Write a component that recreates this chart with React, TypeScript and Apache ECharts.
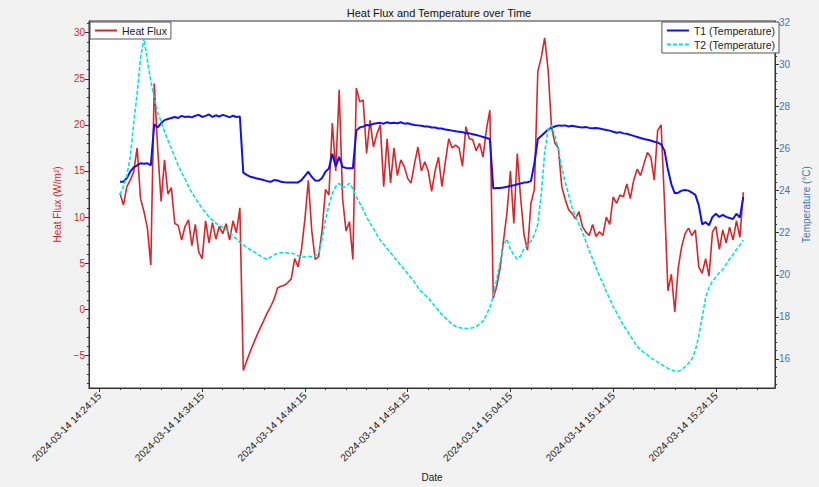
import React, { useEffect, useRef } from "react";
import * as echarts from "echarts";

// Time axis: seconds relative to 2024-03-14 14:24:15
const startOffsetSec = 120; // first sample at 14:26:15
const stepSec = 20;

const xTickValues = [0, 600, 1200, 1800, 2400, 3000, 3600];
const xTickLabels = [
  "2024-03-14 14:24:15",
  "2024-03-14 14:34:15",
  "2024-03-14 14:44:15",
  "2024-03-14 14:54:15",
  "2024-03-14 15:04:15",
  "2024-03-14 15:14:15",
  "2024-03-14 15:24:15",
];
const leftTicks = [-5, 0, 5, 10, 15, 20, 25, 30];
const rightTicks = [16, 18, 20, 22, 24, 26, 28, 30, 32];

const heatFlux = [
  12.6, 11.3, 13.3, 14.0, 14.9, 17.5, 12.0, 10.6, 8.8, 4.8,
  24.5, 17.5, 11.7, 16.2, 12.5, 13.2, 9.3, 9.1, 7.5, 9.0,
  9.7, 6.9, 9.2, 6.2, 5.5, 9.6, 7.2, 9.4, 7.6, 9.0,
  8.2, 9.3, 7.5, 9.6, 8.3, 11.0, -6.65, -5.6, -4.6, -3.7,
  -2.8, -2.0, -1.2, -0.4, 0.3, 1.1, 2.3, 2.5, 2.6, 2.9,
  3.3, 5.5, 4.6, 6.5, 9.8, 14.0, 8.5, 5.4, 5.7, 8.5,
  13.0, 12.4, 20.2, 15.0, 23.8, 12.0, 8.5, 9.5, 5.4, 24.0,
  22.5, 22.7, 16.9, 20.5, 17.6, 19.0, 20.0, 13.3, 18.5, 13.7,
  17.5, 14.5, 16.2, 15.5, 14.2, 13.7, 15.8, 17.6, 15.0, 16.0,
  15.0, 12.8, 15.0, 16.5, 13.3, 16.0, 18.5, 17.5, 17.8, 17.5,
  15.5, 19.8, 18.5, 18.4, 17.2, 18.0, 16.5, 19.5, 21.6, 1.2,
  2.5, 4.5, 7.5, 10.5, 15.0, 9.3, 16.9, 12.0, 8.0, 6.4,
  11.5, 13.0, 25.8, 27.3, 29.45, 26.0, 19.8, 18.0, 17.5, 13.3,
  11.9, 10.8, 10.4, 9.8, 10.6, 9.0, 8.4, 8.0, 9.2, 7.9,
  8.4, 8.0, 10.0, 9.2, 12.2, 11.5, 12.4, 12.2, 13.6, 12.0,
  14.0, 15.2, 14.5, 15.8, 17.0, 16.5, 14.0, 19.4, 20.0, 11.5,
  2.0, 3.8, -0.3, 4.5, 6.8, 8.2, 8.8, 8.0, 8.6, 4.6,
  3.9, 5.5, 3.6, 8.4, 9.0, 6.5, 8.6, 7.2, 8.9, 7.5,
  9.6, 7.8, 12.7,
];

const t1 = [
  24.42, 24.42, 24.6, 24.9, 25.1, 25.2, 25.3, 25.28, 25.3, 25.2,
  27.15, 27.0, 27.2, 27.35, 27.4, 27.45, 27.5, 27.45, 27.55, 27.5,
  27.52, 27.48, 27.56, 27.6, 27.5, 27.55, 27.62, 27.5, 27.58, 27.52,
  27.6, 27.55, 27.48, 27.56, 27.5, 27.52, 24.85, 24.75, 24.66, 24.62,
  24.58, 24.54, 24.5, 24.45, 24.42, 24.5, 24.48, 24.42, 24.4, 24.39,
  24.39, 24.39, 24.39, 24.5, 24.7, 24.9, 24.65, 24.48, 24.47, 24.6,
  24.9, 25.05, 25.75, 25.15, 25.6, 25.12, 25.08, 25.06, 25.06, 26.85,
  27.0, 27.04, 27.12, 27.1, 27.18, 27.2, 27.22, 27.18, 27.25, 27.2,
  27.22, 27.2, 27.25, 27.18, 27.2, 27.15, 27.12, 27.1, 27.08, 27.05,
  27.05, 27.0, 27.0, 26.95, 26.95, 26.9, 26.88, 26.85, 26.82, 26.8,
  26.78, 26.72, 26.72, 26.68, 26.64, 26.6, 26.55, 26.5, 26.45, 24.1,
  24.12, 24.12, 24.15, 24.18, 24.22, 24.25, 24.3, 24.34, 24.38, 24.4,
  24.45, 25.3, 26.45, 26.6, 26.75, 26.9, 27.0, 27.05, 27.1, 27.08,
  27.1, 27.05, 27.08, 27.05, 27.02, 27.0, 27.02, 26.98, 26.96, 26.98,
  26.95, 26.92, 26.88, 26.85, 26.8, 26.75, 26.78, 26.72, 26.7, 26.65,
  26.6, 26.55, 26.5, 26.45, 26.42, 26.38, 26.32, 26.28, 26.2, 25.9,
  25.0, 24.3, 23.87, 23.9, 24.0, 24.03, 24.0, 23.9, 23.8, 23.3,
  22.4, 22.5, 22.35, 22.75, 22.9, 22.75, 22.85, 22.75, 22.7, 22.65,
  22.9, 22.72, 23.7,
];

const t2 = [
  23.8, 24.2, 24.7, 25.6, 27.2, 28.6, 30.3, 31.25, 30.2, 29.2,
  28.4, 27.7, 27.3, 26.8, 26.4, 26.0, 25.6, 25.2, 24.85, 24.55,
  24.2, 23.9, 23.65, 23.4, 23.15, 22.95, 22.75, 22.6, 22.45, 22.35,
  22.25, 22.15, 22.0, 21.85, 21.7, 21.55, 21.42, 21.3, 21.2, 21.1,
  21.0, 20.9, 20.8, 20.74, 20.85, 20.95, 21.02, 21.05, 21.05, 21.03,
  21.02, 21.0, 20.9, 20.83, 20.85, 20.88, 20.85, 20.9, 21.0, 21.7,
  22.6, 23.3, 23.85, 24.2, 24.35, 24.15, 24.2, 24.35, 24.1, 23.7,
  23.4, 23.1, 22.75, 22.45, 22.2, 21.9, 21.65, 21.45, 21.25, 21.05,
  20.85, 20.65, 20.45, 20.25, 20.05, 19.85, 19.65, 19.4, 19.2, 19.05,
  18.9, 18.7, 18.5, 18.3, 18.1, 17.95, 17.8, 17.65, 17.55, 17.5,
  17.46, 17.45, 17.45, 17.48, 17.55, 17.65, 17.8, 18.1, 18.45, 19.0,
  19.8, 20.6, 21.4, 21.7, 21.2, 20.95, 20.75, 20.9, 21.25, 21.4,
  21.6, 21.9, 22.4, 23.8, 25.8, 26.9, 27.1, 26.6, 25.95, 25.1,
  24.4, 23.8, 23.2, 22.8, 22.4, 22.05, 21.6, 21.15, 20.75, 20.35,
  19.95, 19.6, 19.2, 18.85, 18.5, 18.2, 17.9, 17.6, 17.35, 17.1,
  16.85, 16.6, 16.45, 16.3, 16.2, 16.05, 15.95, 15.85, 15.75, 15.65,
  15.55, 15.48, 15.43, 15.41, 15.5, 15.62, 15.8, 16.0, 16.4, 17.1,
  18.0, 18.9, 19.4, 19.7, 19.9, 20.1, 20.25, 20.5, 20.75, 20.95,
  21.2, 21.4, 21.65,
];

const FONT = "'Liberation Sans', Arial, Helvetica, sans-serif";
const RED = "#d8262b";
const BLUE = "#1010f5";
const CYAN = "#00e2e6";
const RIGHT_TXT = "#3c78b4";
const AXIS = "#333333";

const X_MIN = -61;
const X_MAX = 3945;
const L_MIN = -8.54;
const L_MAX = 31.27;
const R_MIN = 14.62;
const R_MAX = 32.06;

function range(from: number, to: number, step: number) {
  const out: number[] = [];
  for (let v = from; v <= to + 1e-9; v += step) out.push(Math.round(v * 1000) / 1000);
  return out;
}

export default function App() {
  const ref = useRef<HTMLDivElement>(null);

  useEffect(() => {
    document.body.style.margin = "0";
    if (!ref.current) return;
    const chart = echarts.init(ref.current, undefined, { renderer: "svg" });

    const xs = heatFlux.map((_, i) => startOffsetSec + i * stepSec);
    const xMinor = range(0, 3900, 120).filter((v) => v >= X_MIN && v <= X_MAX);
    const leftMinor = range(-8, 31, 1);
    const rightMinor = range(14.8, 32, 0.4);

    const minus = (v: number) => (v < 0 ? "\u2212" + Math.abs(v) : String(v));

    const legendBase = {
      orient: "vertical",
      backgroundColor: "#ffffff",
      borderColor: "#555",
      borderWidth: 1,
      borderRadius: 0,
      itemWidth: 22,
      itemHeight: 12,
      itemStyle: { opacity: 0 },
      textStyle: { fontSize: 10.5, color: "#222", fontFamily: FONT },
    };

    const option: any = {
      animation: false,
      backgroundColor: "#f2f2f2",
      textStyle: { fontFamily: FONT },
      title: {
        text: "Heat Flux and Temperature over Time",
        left: 434,
        textAlign: "center",
        top: 2,
        textStyle: { fontSize: 11, fontWeight: "normal", color: "#111", fontFamily: FONT },
      },
      grid: {
        left: 89,
        right: 39,
        top: 21,
        bottom: 99,
        show: true,
        backgroundColor: "#ffffff",
        borderColor: AXIS,
        borderWidth: 1,
      },
      legend: [
        {
          ...legendBase,
          data: ["Heat Flux"],
          left: 90,
          top: 22,
          padding: [3, 4, 3, 4],
          itemGap: 4,
        },
        {
          ...legendBase,
          data: ["T1 (Temperature)", "T2 (Temperature)"],
          right: 40,
          top: 22,
          padding: [3, 4, 3, 4],
          itemGap: 3,
        },
      ],
      xAxis: [
        {
          type: "value",
          min: X_MIN,
          max: X_MAX,
          position: "bottom",
          axisLine: { show: true, onZero: false, lineStyle: { color: AXIS, width: 1 } },
          axisTick: { show: true, customValues: xTickValues, length: 4, lineStyle: { color: AXIS } },
          axisLabel: {
            customValues: xTickValues,
            rotate: 45,
            margin: 6,
            fontSize: 10,
            color: "#222",
            fontFamily: FONT,
            formatter: (v: number) => {
              const k = xTickValues.indexOf(v);
              return k >= 0 ? xTickLabels[k] : "";
            },
          },
          splitLine: { show: false },
          name: "Date",
          nameLocation: "middle",
          nameGap: 84,
          nameTextStyle: { fontSize: 10, color: "#222", fontFamily: FONT },
        },
        {
          type: "value",
          min: X_MIN,
          max: X_MAX,
          position: "bottom",
          axisLine: { show: false, onZero: false },
          axisTick: { show: true, customValues: xMinor, length: 2, lineStyle: { color: AXIS } },
          axisLabel: { show: false },
          splitLine: { show: false },
        },
      ],
      yAxis: [
        {
          type: "value",
          min: L_MIN,
          max: L_MAX,
          position: "left",
          axisLine: { show: true, onZero: false, lineStyle: { color: AXIS, width: 1 } },
          axisTick: { show: true, customValues: leftTicks, length: 4, lineStyle: { color: AXIS } },
          axisLabel: {
            customValues: leftTicks,
            margin: 4,
            fontSize: 10,
            color: RED,
            fontFamily: FONT,
            formatter: (v: number) => minus(v),
          },
          splitLine: { show: false },
          name: "Heat Flux (W/m\u00b2)",
          nameLocation: "middle",
          nameRotate: 90,
          nameGap: 25,
          nameTextStyle: { fontSize: 10, color: RED, fontFamily: FONT },
        },
        {
          type: "value",
          min: R_MIN,
          max: R_MAX,
          position: "right",
          axisLine: { show: true, onZero: false, lineStyle: { color: AXIS, width: 1 } },
          axisTick: { show: true, customValues: rightTicks, length: 4, lineStyle: { color: AXIS } },
          axisLabel: {
            customValues: rightTicks,
            margin: 4,
            fontSize: 10,
            color: RIGHT_TXT,
            fontFamily: FONT,
          },
          splitLine: { show: false },
          name: "Temperature (\u00b0C)",
          nameLocation: "middle",
          nameRotate: 90,
          nameGap: 21,
          nameTextStyle: { fontSize: 10, color: RIGHT_TXT, fontFamily: FONT },
        },
        {
          type: "value",
          min: L_MIN,
          max: L_MAX,
          position: "left",
          axisLine: { show: false, onZero: false },
          axisTick: { show: true, customValues: leftMinor, length: 2, lineStyle: { color: AXIS } },
          axisLabel: { show: false },
          splitLine: { show: false },
        },
        {
          type: "value",
          min: R_MIN,
          max: R_MAX,
          position: "right",
          axisLine: { show: false, onZero: false },
          axisTick: { show: true, customValues: rightMinor, length: 2, lineStyle: { color: AXIS } },
          axisLabel: { show: false },
          splitLine: { show: false },
        },
      ],
      series: [
        {
          name: "Heat Flux",
          type: "line",
          xAxisIndex: 0,
          yAxisIndex: 0,
          symbol: "none",
          data: heatFlux.map((v, i) => [xs[i], v]),
          lineStyle: { color: RED, width: 1.6 },
          itemStyle: { color: RED },
          z: 3,
        },
        {
          name: "T1 (Temperature)",
          type: "line",
          xAxisIndex: 0,
          yAxisIndex: 1,
          symbol: "none",
          data: t1.map((v, i) => [xs[i], v]),
          lineStyle: { color: BLUE, width: 2 },
          itemStyle: { color: BLUE },
          z: 4,
        },
        {
          name: "T2 (Temperature)",
          type: "line",
          xAxisIndex: 0,
          yAxisIndex: 1,
          symbol: "none",
          data: t2.map((v, i) => [xs[i], v]),
          lineStyle: { color: CYAN, width: 1.6, type: [4, 2] },
          itemStyle: { color: CYAN },
          z: 4,
        },
      ],
    };

    chart.setOption(option);
    return () => chart.dispose();
  }, []);

  return <div ref={ref} style={{ width: 819, height: 487 }} />;
}
